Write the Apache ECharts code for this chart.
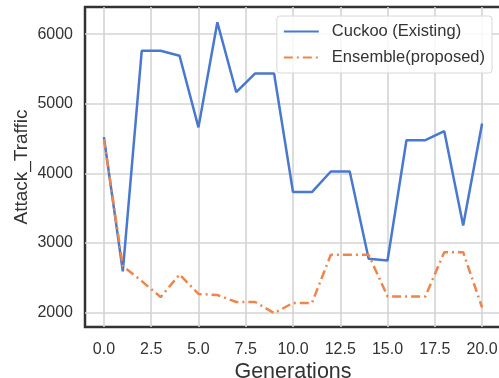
<!DOCTYPE html>
<html>
<head>
<meta charset="utf-8">
<script src="https://cdn.jsdelivr.net/npm/echarts@6/dist/echarts.min.js"></script>
<style>
  html, body { margin: 0; padding: 0; background: #fff; }
  #chart { width: 499px; height: 378px; }
</style>
</head>
<body>
<div id="chart"></div>
<script>
// generations 0..20
const generations = [0,1,2,3,4,5,6,7,8,9,10,11,12,13,14,15,16,17,18,19,20];
const cuckoo = [4520,2590,5760,5760,5690,4660,6170,5165,5435,5435,3730,3730,4025,4025,2770,2745,4475,4475,4605,3250,4715];
const ensemble = [4490,2665,2450,2220,2545,2265,2250,2150,2150,1990,2135,2135,2828,2828,2828,2230,2230,2230,2865,2865,2070];
const xTicks = [0, 2.5, 5, 7.5, 10, 12.5, 15, 17.5, 20];
const yTicks = [2000, 3000, 4000, 5000, 6000];

const chart = echarts.init(document.getElementById('chart'));
const font = 'Liberation Sans';

chart.setOption({
  animation: false,
  textStyle: { fontFamily: font },
  grid: {
    left: 85, top: 7, right: -2, bottom: 51,
    outerBoundsMode: 'none',
    containLabel: false,
    show: true, borderColor: '#333', borderWidth: 2.5
  },
  legend: {
    orient: 'vertical',
    right: 7,
    top: 16,
    padding: [7, 7, 7, 6],
    itemGap: 9,
    itemWidth: 35,
    itemHeight: 14,
    backgroundColor: 'rgba(255,255,255,0.85)',
    borderColor: '#d8d8d8',
    borderWidth: 1,
    borderRadius: 3,
    itemStyle: { opacity: 0 },
    textStyle: { fontSize: 16.5, color: '#333', fontFamily: font, padding: [0, 0, 0, 8] },
    data: ['Cuckoo (Existing)', 'Ensemble(proposed)']
  },
  xAxis: {
    type: 'value',
    min: -1,
    max: 21,
    name: 'Generations',
    nameLocation: 'middle',
    nameGap: 34,
    nameMoveOverlap: false,
    nameTextStyle: { fontSize: 21.5, color: '#333', fontFamily: font },
    axisLine: { show: false },
    axisTick: { show: false, customValues: xTicks },
    axisLabel: {
      customValues: xTicks,
      margin: 15,
      fontSize: 16,
      color: '#333',
      formatter: v => v.toFixed(1)
    },
    splitLine: { show: true, lineStyle: { color: '#d4d4d4', width: 1.6 } }
  },
  yAxis: {
    type: 'value',
    min: 1790,
    max: 6390,
    name: 'Attack_Traffic',
    nameLocation: 'middle',
    nameGap: 54,
    nameMoveOverlap: false,
    nameTextStyle: { fontSize: 19, color: '#333', fontFamily: font },
    axisLine: { show: false },
    axisTick: { show: false, customValues: yTicks },
    axisLabel: {
      customValues: yTicks,
      margin: 12,
      fontSize: 16,
      color: '#333',
      formatter: v => String(v)
    },
    splitLine: { show: true, lineStyle: { color: '#d4d4d4', width: 1.6 } }
  },
  series: [
    {
      name: 'Cuckoo (Existing)',
      type: 'line',
      symbol: 'none',
      data: generations.map((g, i) => [g, cuckoo[i]]),
      lineStyle: { color: '#4878d0', width: 2.5 },
      itemStyle: { color: '#4878d0' }
    },
    {
      name: 'Ensemble(proposed)',
      type: 'line',
      symbol: 'none',
      data: generations.map((g, i) => [g, ensemble[i]]),
      lineStyle: { color: '#ee854a', width: 2.5, type: [9, 4, 2, 4] },
      itemStyle: { color: '#ee854a' }
    }
  ]
});
</script>
</body>
</html>
